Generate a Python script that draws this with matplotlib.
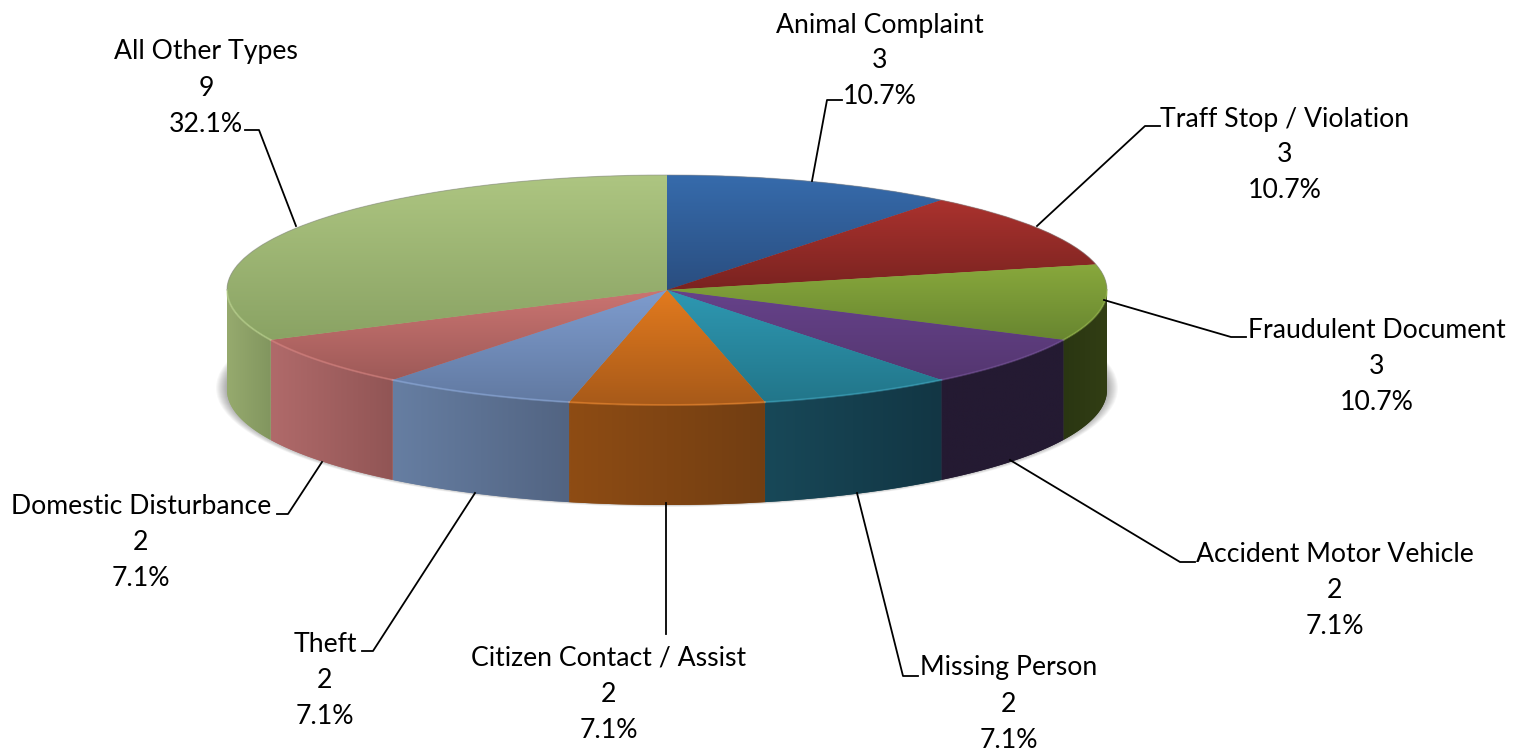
import numpy as np
import matplotlib
matplotlib.use("Agg")
import matplotlib.pyplot as plt
from matplotlib.patches import Ellipse, Polygon

plt.rcParams['font.family'] = ['Lato', 'DejaVu Sans']

# data, clockwise from 12 o'clock
names = ["Animal Complaint", "Traff Stop / Violation", "Fraudulent Document",
         "Accident Motor Vehicle", "Missing Person", "Citizen Contact / Assist",
         "Theft", "Domestic Disturbance", "All Other Types"]
counts = [3, 3, 3, 2, 2, 2, 2, 2, 9]

# colours of the top face (back, front) and the side (left, right)
top_colors = [((54, 107, 172), (42, 78, 128)), ((170, 50, 46), (122, 35, 32)),
              ((136, 168, 60), (104, 134, 48)), ((102, 66, 138), (84, 54, 112)),
              ((46, 152, 178), (34, 118, 138)), ((226, 122, 30), (168, 90, 25)),
              ((126, 156, 206), (98, 122, 162)), ((202, 116, 113), (158, 90, 88)),
              ((173, 197, 129), (138, 163, 100))]
side_colors = [None, None, ((42, 54, 18), (50, 62, 20)), ((36, 26, 50), (36, 26, 50)),
               ((24, 72, 88), (18, 54, 68)), ((142, 76, 20), (114, 62, 18)),
               ((102, 126, 162), (82, 100, 130)), ((176, 106, 106), (145, 85, 85)),
               ((150, 170, 110), (130, 150, 95))]

# label layout in pixels: centre x, first line y, leader line
label_pos = [(880, 25), (1285, 119), (1377, 330), (1335, 555), (1009, 668),
             (609, 658), (325, 644), (141, 507), (206, 52)]
leaders = [[(812, 181), (827, 100), (842, 100)],
           [(1037, 226), (1145, 126), (1160, 126)],
           [(1104, 300), (1231, 337), (1246, 337)],
           [(1010, 460), (1180, 562), (1195, 562)],
           [(857, 493), (903, 676), (918, 676)],
           [(666, 503), (666, 634)],
           [(475, 493), (373, 651), (362, 651)],
           [(322, 462), (288, 514), (277, 514)],
           [(296, 226), (259, 130), (245, 130)]]

W, H = 1529, 752
cx, cy, rx, ry, depth_px = 667, 290, 440, 115, 100
depth = depth_px / ry


def gradient(c1, c2, vertical, n=64):
    t = np.linspace(0, 1, n)
    arr = np.array([(1 - a) * np.array(c1) + a * np.array(c2) for a in t]) / 255
    return arr[:, None, :] if vertical else arr[None, :, :]


fig = plt.figure(figsize=(W / 100, H / 100), dpi=100, facecolor="white")
ax = fig.add_axes([0, 0, 1, 1])

wedges, _ = ax.pie(counts, startangle=90, counterclock=False, radius=1,
                   colors=[tuple(v / 255 for v in c[0]) for c in top_colors],
                   wedgeprops={"linewidth": 0})
ax.set_aspect("auto")

# soft shadow under the disc
for i in range(12):
    ax.add_patch(Ellipse((0, -(388 - cy) / ry), 2 * (rx + 11 - i) / rx, 2 * (ry + 4 - i * 0.3) / ry,
                         facecolor="black", edgecolor="none", alpha=0.03, zorder=0.5))

for w, tc, sc in zip(wedges, top_colors, side_colors):
    w.set_zorder(3)
    th = np.radians(np.linspace(w.theta1, w.theta2, 80))
    xs = np.concatenate([[0], np.cos(th)])
    ys = np.concatenate([[0], np.sin(th)])

    # top face, dark towards the front
    im = ax.imshow(gradient(tc[0], tc[1], True), extent=(xs.min(), xs.max(), ys.min(), ys.max()),
                   origin="upper", aspect="auto", zorder=4, interpolation="bilinear")
    im.set_clip_path(w)

    # side wall, only the part on the front half
    t1, t2 = max(w.theta1, -180), min(w.theta2, 0)
    if sc is not None and t1 < t2:
        a = np.radians(np.linspace(t1, t2, 80))
        px, py = np.cos(a), np.sin(a)
        verts = np.vstack([np.c_[px, py], np.c_[px[::-1], py[::-1] - depth]])
        poly = Polygon(verts, closed=True, facecolor=tuple(v / 255 for v in sc[0]),
                       edgecolor="none", zorder=1)
        ax.add_patch(poly)
        im2 = ax.imshow(gradient(sc[0], sc[1], False), extent=(px.min(), px.max(), -1 - depth, 0),
                        aspect="auto", zorder=2, interpolation="bilinear")
        im2.set_clip_path(poly)
        # pale rim where the top meets the side
        rim = tuple(min(255, v + 25) / 255 for v in tc[0])
        ax.plot(px, py, color=rim, lw=1.4, alpha=0.45, zorder=5)

# thin grey edge on the back of the disc
a = np.radians(np.linspace(0, 180, 200))
ax.plot(np.cos(a), np.sin(a), color="#888888", lw=0.8, alpha=0.5, zorder=5)

ax.set_xlim(-cx / rx, (W - cx) / rx)
ax.set_ylim(-(H - cy) / ry, cy / ry)
ax.axis("off")

# labels and leader lines in pixel coordinates
ov = fig.add_axes([0, 0, 1, 1])
ov.set_xlim(0, W)
ov.set_ylim(H, 0)
ov.axis("off")
ov.patch.set_alpha(0)

total = sum(counts)
for name, n, (lx, ly), pts in zip(names, counts, label_pos, leaders):
    for i, line in enumerate([name, str(n), f"{n / total:.1%}"]):
        ov.text(lx, ly + i * 36, line, ha="center", va="center", fontsize=19.2, color="black")
    ov.plot([p[0] for p in pts], [p[1] for p in pts], color="black", lw=1.3)

fig.savefig("out.png", dpi=100)
